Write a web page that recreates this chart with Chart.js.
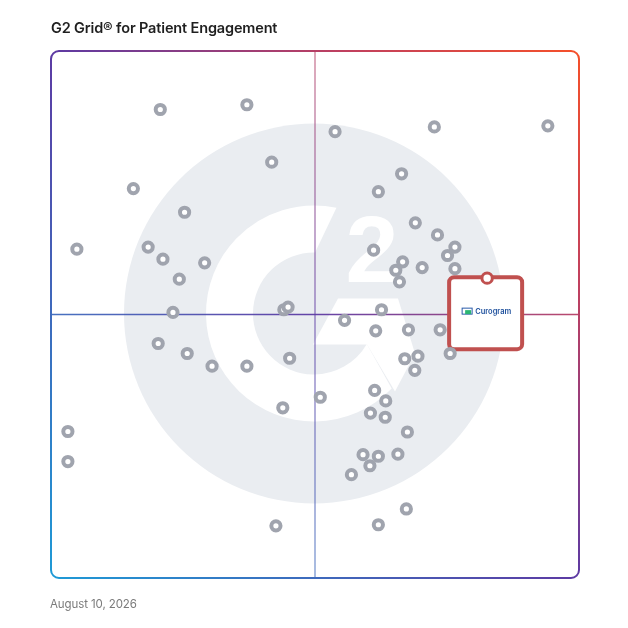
<!DOCTYPE html>
<html>
<head>
<meta charset="utf-8">
<title>G2 Grid</title>
<script src="https://cdn.jsdelivr.net/npm/chart.js@4.4.1/dist/chart.umd.min.js"></script>
<style>
    html, body { margin: 0; padding: 0; background: #fff; }
    #wrap { position: relative; width: 628px; height: 628px; }
    #gridChart { position: absolute; left: 0; top: 0; }
    #title { position: absolute; left: 51px; top: 19px; font: 600 14.5px Inter, sans-serif; color: #1f1f1f; letter-spacing: -0.15px; }
    #date { position: absolute; left: 50px; top: 597px; font: 400 11.5px Inter, sans-serif; color: #7b7b7b; letter-spacing: -0.1px; }
</style>
</head>
<body>
<div id="wrap">
    <canvas id="gridChart" width="628" height="628"></canvas>
    <div id="title">G2 Grid® for Patient Engagement</div>
    <div id="date">August 10, 2026</div>
</div>
<script>
// ==================== DỮ LIỆU ====================
// x = satisfaction, y = market presence (0..100, 50 = quadrant split)
const satisfaction = [
    20.7, 37.1, 41.8, 15.6, 25.3, 4.9, 18.4, 21.2, 29.1, 24.3, 23.1, 44.1, 44.9,
    53.8, 72.6, 94.1, 66.4, 62.0, 69.0, 73.2, 76.5, 75.1, 61.1, 66.6, 65.3, 70.3, 76.5, 66.0, 62.6, 55.6,
    20.3, 25.8, 30.5, 37.1, 45.2, 43.9, 3.2, 3.2, 42.6, 51.0,
    61.5, 67.7, 73.7, 75.6, 67.0, 69.5, 68.9, 61.3, 63.4, 60.5, 63.3, 67.5, 59.1, 62.0, 60.4, 65.7, 56.9, 67.3, 62.0
];
const marketPresence = [
    88.9, 89.8, 78.9, 73.9, 69.4, 62.4, 62.8, 60.5, 59.8, 56.7, 50.4, 50.9, 51.4,
    84.7, 85.6, 85.8, 76.7, 73.3, 67.4, 65.1, 62.8, 61.2, 62.2, 60.0, 58.4, 58.9, 58.7, 56.2, 50.9, 48.9,
    44.5, 42.6, 40.2, 40.2, 41.7, 32.3, 27.8, 22.1, 9.9, 34.3,
    46.9, 47.1, 47.1, 42.6, 41.6, 42.1, 39.4, 35.6, 33.6, 31.3, 30.5, 27.7, 23.4, 23.1, 21.3, 23.5, 19.6, 13.1, 10.1
];
const featuredName = 'Curogram';
const featuredX = [82.6];
const featuredY = [56.9];

const vendorPoints = satisfaction.map((v, i) => ({ x: v, y: marketPresence[i] }));
const featuredPoints = featuredX.map((v, i) => ({ x: v, y: featuredY[i] }));

// ==================== TRANG TRÍ ====================
function rad(d) { return d * Math.PI / 180; }

function frameGradient(ctx, a) {
    const g = ctx.createLinearGradient(a.left, a.bottom, a.right, a.top);
    g.addColorStop(0, '#1e9ad6');
    g.addColorStop(0.5, '#5d3aa3');
    g.addColorStop(0.78, '#c1405e');
    g.addColorStop(1, '#f5502a');
    return g;
}

const gridDecor = {
    id: 'gridDecor',
    beforeDatasetsDraw(chart) {
        const { ctx, chartArea: a, scales: { x, y } } = chart;
        const cx = x.getPixelForValue(50), cy = y.getPixelForValue(50);
        const lx = cx - 1, ly = cy - 1;
        ctx.save();

        // watermark G2
        ctx.fillStyle = '#eaedf1';
        ctx.beginPath();
        ctx.arc(lx, ly, 190, 0, Math.PI * 2);
        ctx.fill();

        ctx.fillStyle = '#ffffff';
        ctx.beginPath();
        ctx.arc(lx, ly, 108, rad(44), rad(282));
        ctx.lineTo(lx + 61 * Math.cos(rad(271)), ly + 61 * Math.sin(rad(271)));
        ctx.arc(lx, ly, 61, rad(271), rad(30), true);
        ctx.closePath();
        ctx.fill();

        ctx.beginPath();
        ctx.moveTo(lx + 24, ly - 15);
        ctx.lineTo(lx + 84, ly - 15);
        ctx.lineTo(lx + 101, ly + 40);
        ctx.lineTo(lx + 81, ly + 78);
        ctx.lineTo(lx + 53, ly + 31);
        ctx.lineTo(lx - 1, ly + 31);
        ctx.closePath();
        ctx.fill();

        ctx.font = 'bold 95px "Liberation Sans", Arial, sans-serif';
        ctx.textAlign = 'center';
        ctx.textBaseline = 'alphabetic';
        ctx.fillText('2', lx + 58, ly - 32);

        // quadrant lines
        const grad = frameGradient(ctx, a);
        ctx.strokeStyle = grad;
        ctx.lineWidth = 1.5;
        ctx.globalAlpha = 0.6;
        ctx.beginPath();
        ctx.moveTo(cx, a.top);
        ctx.lineTo(cx, a.bottom);
        ctx.stroke();
        ctx.globalAlpha = 0.95;
        ctx.beginPath();
        ctx.moveTo(a.left, cy);
        ctx.lineTo(a.right, cy);
        ctx.stroke();
        ctx.globalAlpha = 1;

        // frame
        ctx.lineWidth = 2;
        ctx.beginPath();
        ctx.roundRect(a.left, a.top, a.right - a.left, a.bottom - a.top, 8);
        ctx.stroke();

        // featured box
        const fx = x.getPixelForValue(featuredX[0]);
        const fy = y.getPixelForValue(featuredY[0]);
        ctx.fillStyle = '#ffffff';
        ctx.strokeStyle = '#c0504f';
        ctx.lineWidth = 4;
        ctx.beginPath();
        ctx.roundRect(fx - 38, fy - 1, 73, 72, 5);
        ctx.fill();
        ctx.stroke();

        // logo
        const ix = fx - 25, iy = fy + 30;
        ctx.lineWidth = 1;
        ctx.strokeStyle = '#2a5caa';
        ctx.strokeRect(ix, iy, 10, 6);
        ctx.fillStyle = '#2bb673';
        ctx.fillRect(ix + 3, iy + 2, 6, 4);
        ctx.fillStyle = '#1d4f9c';
        ctx.font = '600 7.5px Inter, sans-serif';
        ctx.textAlign = 'left';
        ctx.textBaseline = 'middle';
        ctx.fillText(featuredName, ix + 13, iy + 4);

        ctx.restore();
    }
};

// ==================== BIỂU ĐỒ ====================
Chart.defaults.animation = false;

new Chart(document.getElementById('gridChart'), {
    type: 'scatter',
    data: {
        datasets: [
            {
                label: 'Vendors',
                data: vendorPoints,
                pointRadius: 4.6,
                pointBorderWidth: 4,
                borderColor: '#a0a4ae',
                backgroundColor: '#ffffff',
                pointHoverRadius: 4.6
            },
            {
                label: featuredName,
                data: featuredPoints,
                pointRadius: 5.2,
                pointBorderWidth: 3,
                borderColor: '#c0504f',
                backgroundColor: '#ffffff',
                pointHoverRadius: 5.2
            }
        ]
    },
    options: {
        responsive: false,
        devicePixelRatio: 1,
        layout: { padding: { left: 51, right: 49, top: 51, bottom: 50 } },
        scales: {
            x: { type: 'linear', min: 0, max: 100, display: false },
            y: { type: 'linear', min: 0, max: 100, display: false }
        },
        plugins: { legend: { display: false }, tooltip: { enabled: false } }
    },
    plugins: [gridDecor]
});
</script>
</body>
</html>
